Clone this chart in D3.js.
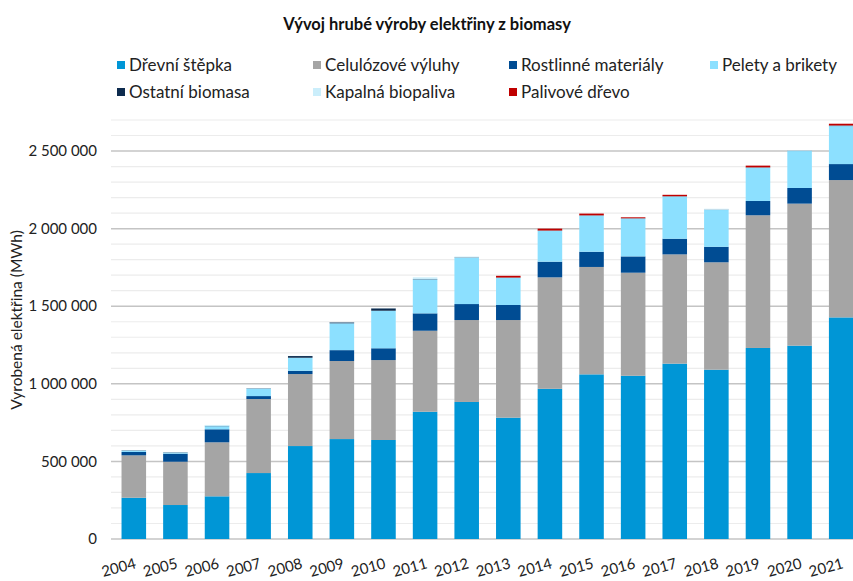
<!DOCTYPE html>
<html><head><meta charset="utf-8">
<script src="https://cdn.jsdelivr.net/npm/d3@7"></script>
<style>body{margin:0;background:#fff}svg{display:block}text{font-family:Lato,"Open Sans",sans-serif}</style>
</head><body>
<svg id="c" width="853" height="581"></svg>
<script>
const years = ["2004","2005","2006","2007","2008","2009","2010","2011","2012","2013","2014","2015","2016","2017","2018","2019","2020","2021"];
const drevniStepka   = [266000,219000,275000,425000,599000,644000,638000,820000,883000,782000,968000,1061000,1052000,1130000,1091000,1231000,1246000,1428000];
const celulozove     = [273000,279000,348000,477000,464000,503000,515000,522000,528000,629000,718000,692000,664000,704000,692000,855000,915000,885000];
const rostlinne      = [22000,52000,84000,19000,21000,70000,76000,112000,103000,97000,101000,98000,105000,101000,100000,92000,101000,103000];
const pelety         = [9000,7000,20000,48000,84000,173000,242000,219000,299000,174000,198000,232000,243000,271000,237000,214000,238000,245000];
const ostatni        = [2000,2000,2000,2000,11000,6000,15000,2000,2000,2000,2000,2000,2000,2000,2000,2000,2000,3000];
const kapalna        = [1000,1000,6000,1000,1000,2000,1000,11000,5000,1000,1000,1000,1000,1000,6000,1000,4000,1000];
const palivove       = [0,0,0,0,0,0,0,0,0,11000,12000,11000,6000,9000,0,11000,0,11000];
const seriesNames = ["Dřevní štěpka","Celulózové výluhy","Rostlinné materiály","Pelety a brikety","Ostatní biomasa","Kapalná biopaliva","Palivové dřevo"];
const seriesColors = ["#0096D6","#A5A5A5","#004C93","#8CE0FF","#0D2B4E","#CBEEFB","#C00000"];
const yTicks = [0,500000,1000000,1500000,2000000,2500000];

const seriesData = [drevniStepka,celulozove,rostlinne,pelety,ostatni,kapalna,palivove];
const rows = years.map((y,i)=>{const r={year:y}; seriesNames.forEach((n,k)=>r[n]=seriesData[k][i]); return r;});
const stack = d3.stack().keys(seriesNames)(rows);

const svg = d3.select("#c");
const x = d3.scaleBand().domain(years).range([113,862]).paddingInner(0.41).paddingOuter(0.205);
const y = d3.scaleLinear().domain([0,2700000]).range([539,120]);

// gridlines
const minor = d3.range(100000,2700001,100000).filter(v=>v%500000!==0);
svg.append("g").selectAll("line").data(minor).join("line")
  .attr("x1",111).attr("x2",853).attr("y1",d=>y(d)).attr("y2",d=>y(d))
  .attr("stroke","#ececec").attr("stroke-width",1.2);
svg.append("g").selectAll("line").data(yTicks).join("line")
  .attr("x1",111).attr("x2",853).attr("y1",d=>y(d)).attr("y2",d=>y(d))
  .attr("stroke","#c4c4c4").attr("stroke-width",1.5);

// bars
svg.append("g").selectAll("g").data(stack).join("g")
  .attr("fill",(d,i)=>seriesColors[i])
  .selectAll("rect").data(d=>d).join("rect")
  .attr("x",d=>x(d.data.year)).attr("width",x.bandwidth())
  .attr("y",d=>y(d[1])).attr("height",d=>Math.max(0,y(d[0])-y(d[1])));

// y axis labels
const loc = d3.formatLocale({decimal:",",thousands:"\u00a0",grouping:[3],currency:["",""]});
const fmt = loc.format(",d");
svg.append("g").selectAll("text").data(yTicks).join("text")
  .attr("x",97).attr("y",d=>y(d)).attr("dy","0.35em").attr("text-anchor","end")
  .attr("font-size",15).attr("fill","#222").text(d=>fmt(d));

// x axis labels
svg.append("g").selectAll("text").data(years).join("text")
  .attr("text-anchor","end").attr("font-size",15).attr("fill","#222")
  .attr("transform",d=>`translate(${x(d)+x.bandwidth()/2+3},${568}) rotate(-15)`)
  .text(d=>d);

// y title
svg.append("text").attr("transform","translate(22,320) rotate(-90)")
  .attr("text-anchor","middle").attr("font-size",15.5).attr("fill","#222")
  .text("Vyrobená elektřina (MWh)");

// title
svg.append("text").attr("x",427).attr("y",30).attr("text-anchor","middle")
  .attr("font-size",16.5).attr("font-weight","bold").attr("fill","#111")
  .text("Vývoj hrubé výroby elektřiny z biomasy");

// legend
const legX = [117,313,509,710], legY = [65,92];
const leg = svg.append("g").selectAll("g").data(seriesNames).join("g")
  .attr("transform",(d,i)=>`translate(${legX[i%4]},${legY[Math.floor(i/4)]})`);
leg.append("rect").attr("x",0).attr("y",-4).attr("width",8).attr("height",8).attr("fill",(d,i)=>seriesColors[i]);
leg.append("text").attr("x",12).attr("dy","0.35em").attr("font-size",17).attr("fill","#222").text(d=>d);
</script>
</body></html>
